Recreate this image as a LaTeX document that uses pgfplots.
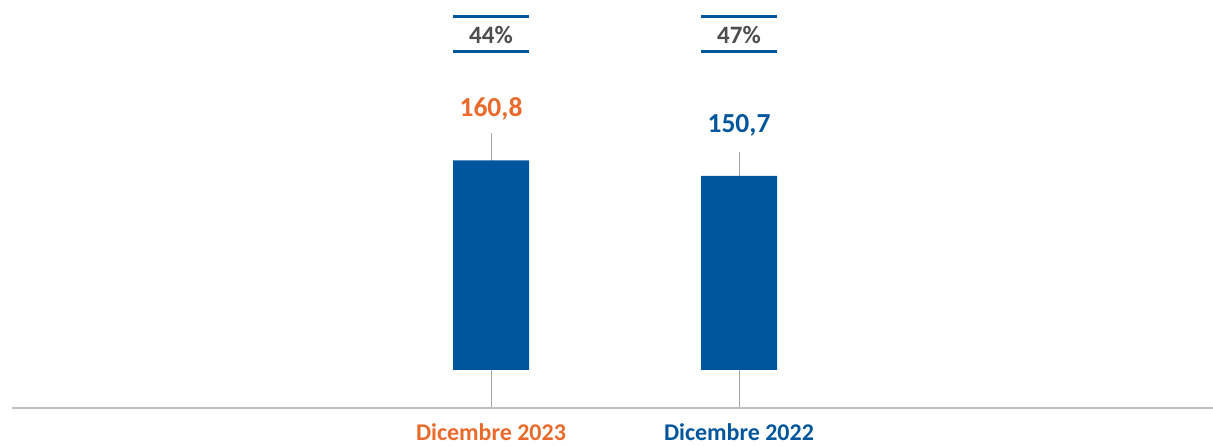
\documentclass[border=0pt]{standalone}
\usepackage{pgfplots}
\pgfplotsset{compat=1.18}
\usepackage{fontspec}
\setmainfont{Carlito}
\definecolor{barblue}{HTML}{00569C}
\definecolor{vorange}{HTML}{EA6A2C}
\definecolor{pgray}{HTML}{4D4D4D}
\definecolor{lgray}{HTML}{BFBFBF}
\definecolor{wgray}{HTML}{A6A6A6}
\begin{document}
\begin{tikzpicture}[x=1pt,y=1pt]
\useasboundingbox (0,0) rectangle (1213,446);
% whiskers, percentage boxes and value labels
\begin{axis}[
  at={(12pt,38pt)}, anchor=south west,
  scale only axis, width=1201pt, height=408pt,
  xmin=-1.9315, xmax=2.9113, ymin=0, ymax=264.9,
  clip=false, axis lines=none,
]
\addplot[wgray, line width=1pt] coordinates {(0,0) (0,178.6)};
\addplot[wgray, line width=1pt] coordinates {(1,0) (1,166.2)};
\addplot[barblue, line width=3pt] coordinates {(-0.153,254.5) (0.153,254.5)};
\addplot[barblue, line width=3pt] coordinates {(-0.153,231.2) (0.153,231.2)};
\addplot[barblue, line width=3pt] coordinates {(0.847,254.5) (1.153,254.5)};
\addplot[barblue, line width=3pt] coordinates {(0.847,231.2) (1.153,231.2)};
\node[font=\fontsize{25}{30}\selectfont\bfseries, text=pgray] at (axis cs:0,242.5) {44\%};
\node[font=\fontsize{25}{30}\selectfont\bfseries, text=pgray] at (axis cs:1,242.5) {47\%};
\node[font=\fontsize{27.5}{32}\selectfont\bfseries, text=vorange] at (axis cs:0,194.5) {160,8};
\node[font=\fontsize{27.5}{32}\selectfont\bfseries, text=barblue] at (axis cs:1,183.5) {150,7};
\end{axis}
% bars
\begin{axis}[
  at={(12pt,38pt)}, anchor=south west,
  scale only axis, width=1201pt, height=408pt,
  xmin=-1.9315, xmax=2.9113, ymin=0, ymax=264.9,
  clip=false,
  ybar stacked, bar width=76pt,
  axis y line=none, axis x line*=bottom,
  x axis line style={lgray, line width=1.5pt, -},
  xtick={0,1}, xticklabels={{\textcolor{vorange}{Dicembre 2023}},{\textcolor{barblue}{Dicembre 2022}}},
  xticklabel style={font=\fontsize{24}{28}\selectfont\bfseries, anchor=base, yshift=-33pt, inner sep=0pt},
  major tick length=0pt,
  ytick=\empty,
]
% invisible base segment
\addplot+[draw=none, fill=none, mark=none]
  coordinates {(0,24.7) (1,24.7)};
% visible bars (totals 160.8 and 150.7)
\addplot+[fill=barblue, draw=none, mark=none]
  coordinates {(0,136.1) (1,126.0)};
\end{axis}
\end{tikzpicture}
\end{document}
